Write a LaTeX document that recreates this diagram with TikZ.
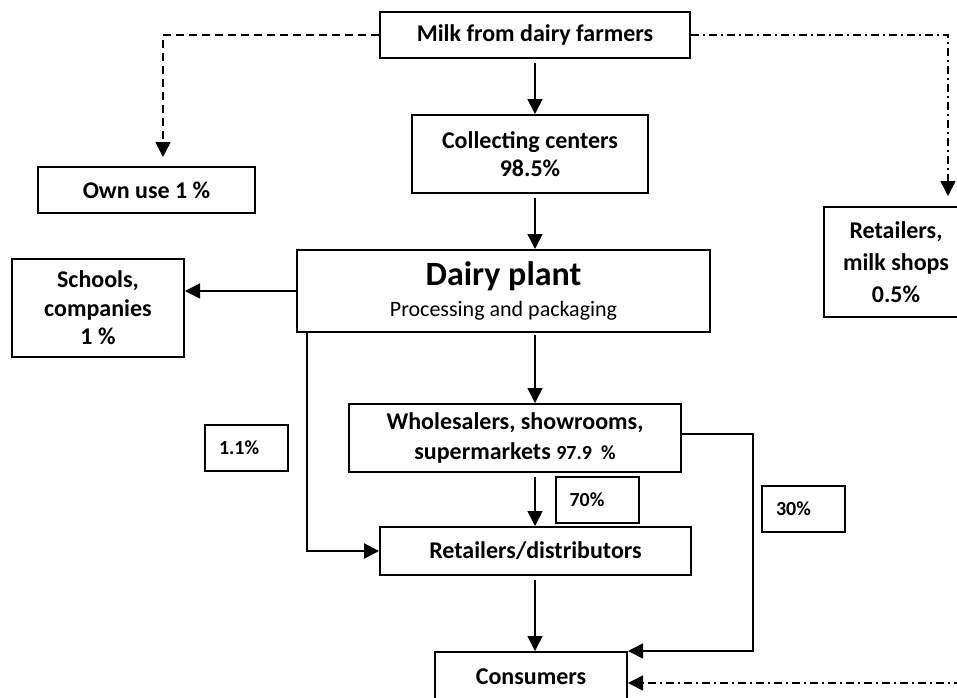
\documentclass[tikz,border=0pt]{standalone}
\usepackage{fontspec}
\setmainfont{Carlito}
\usetikzlibrary{arrows.meta}
\tikzset{box/.style={draw, line width=1pt, align=center, inner sep=0pt,
    font=\fontsize{12}{14.2}\selectfont\bfseries},
  pctbox/.style={draw, line width=1pt, inner xsep=7pt, inner ysep=0pt,
    text width=27.5pt, align=left, minimum height=23pt,
    font=\fontsize{10}{12}\selectfont\bfseries},
  flow/.style={line width=0.8pt, -{Triangle[length=7.5pt,width=7.5pt]}},
  dashflow/.style={flow, dash pattern=on 4pt off 2.5pt},
  dotflow/.style={flow, dash pattern=on 4pt off 2pt on 1pt off 2pt}
}

\begin{document}
\begin{tikzpicture}[x=0.5pt, y=-0.5pt]
  \useasboundingbox (0,0) rectangle (957,697);
  \node[box, minimum width=155pt, minimum height=23pt] (milk) at (535,35) {Milk from dairy farmers};
  \node[box, minimum width=118pt, minimum height=39pt] (collect) at (530,154) {Collecting centers\\98.5\%};
  \node[box, minimum width=108.5pt, minimum height=23pt] (ownuse) at (146.5,190) {Own use 1 \%};
  \node[box, minimum width=72pt, minimum height=55pt, font=\fontsize{12}{16}\selectfont\bfseries] (shops) at (896,262) {Retailers,\\milk shops\\0.5\%};
  \node[box, minimum width=206.5pt, minimum height=41pt] (dairy) at (503.5,291)
    {{\fontsize{17}{20}\selectfont Dairy plant}\\[1pt]{\fontsize{11}{13}\selectfont\mdseries Processing and packaging}};
  \node[box, minimum width=86pt, minimum height=49pt] (schools) at (98,308) {Schools,\\companies\\1 \%};
  \node[box, minimum width=166pt, minimum height=34pt, font=\fontsize{12}{15}\selectfont\bfseries] (whole) at (515,438)
    {Wholesalers, showrooms,\\supermarkets {\fontsize{10}{12}\selectfont 97.9\ \ \%}};
  \node[box, minimum width=155.5pt, minimum height=24pt] (rdist) at (535.5,551) {Retailers/distributors};
  \node[box, minimum width=96pt, minimum height=25pt] (cons) at (531,677) {Consumers};
  \node[pctbox] (p11) at (246.5,448) {1.1\%};
  \node[pctbox] (p70) at (597,500) {70\%};
  \node[pctbox] (p30) at (803.5,509) {30\%};
  \coordinate (rim) at (962,683);

  \draw[flow, shorten <=2pt] (milk.south) -- (milk.south |- collect.north);
  \draw[dashflow, shorten >=4.5pt] (milk.west) -| ([xshift=8.25pt]ownuse.north);
  \draw[dotflow, shorten >=5pt] (milk.east) -| ([xshift=26pt]shops.north);
  \draw[flow, shorten <=2pt] (milk.south |- collect.south) -- (milk.south |- dairy.north);
  \draw[flow] (dairy.west) -- (dairy.west -| schools.east);
  \draw[flow, line width=1.2pt] ([xshift=5.5pt]dairy.south west) |- (rdist.west);
  \draw[flow, shorten <=1pt] (milk.south |- dairy.south) -- (milk.south |- whole.north);
  \draw[flow, shorten <=2pt] (milk.south |- whole.south) -- (milk.south |- rdist.north);
  \draw[flow, shorten <=2pt] (milk.south |- rdist.south) -- (milk.south |- cons.north);
  \draw[flow] ([yshift=2pt]whole.east) -- ++(35.5pt,0) |- (cons.north east);
  \draw[dotflow] (rim) -- (rim -| cons.east);
\end{tikzpicture}
\end{document}
